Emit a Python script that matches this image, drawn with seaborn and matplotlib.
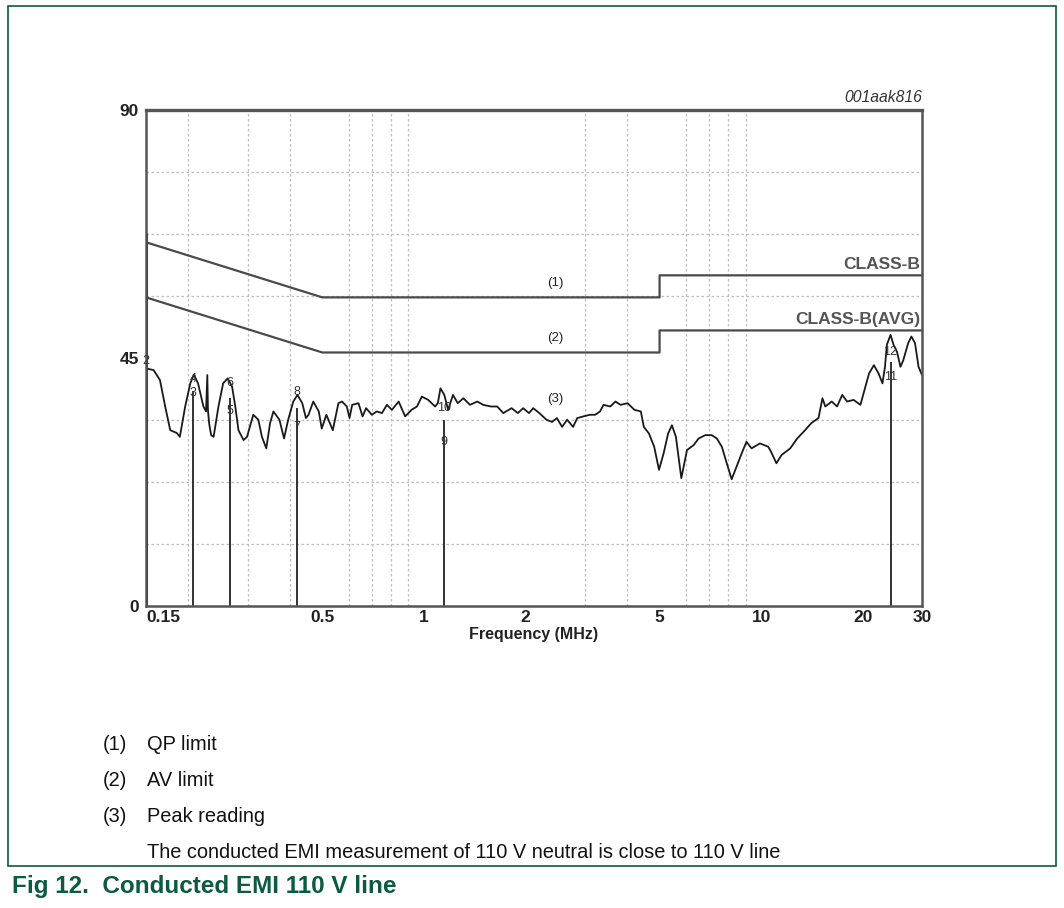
import numpy as np
import pandas as pd
import seaborn as sns
import matplotlib
matplotlib.use("Agg")
import matplotlib.pyplot as plt
from matplotlib import font_manager
from matplotlib.patches import Rectangle

sns.set_theme(style="white")

installed = {f.name for f in font_manager.fontManager.ttflist}
narrow = "Liberation Sans Narrow" if "Liberation Sans Narrow" in installed else "Liberation Sans"
plt.rcParams["font.family"] = ["Liberation Sans", "DejaVu Sans"]

# peak reading trace (3): frequency in MHz, level in dB
trace_freq = [0.150, 0.1502, 0.158, 0.165, 0.171, 0.177, 0.185, 0.189, 0.196, 0.203,
              0.208, 0.214, 0.222, 0.226, 0.228, 0.229, 0.231, 0.234, 0.238, 0.246,
              0.254, 0.262, 0.270, 0.276, 0.282, 0.292, 0.299, 0.312, 0.323, 0.331,
              0.341, 0.350, 0.358, 0.373, 0.385, 0.396, 0.410, 0.422, 0.436, 0.447,
              0.455, 0.470, 0.488, 0.498, 0.514, 0.537, 0.558, 0.572, 0.591, 0.602,
              0.613, 0.640, 0.658, 0.674, 0.701, 0.725, 0.751, 0.777, 0.804, 0.842,
              0.880, 0.920, 0.954, 0.986, 1.03, 1.08, 1.10, 1.12, 1.15, 1.18,
              1.22, 1.26, 1.31, 1.37, 1.44, 1.50, 1.58, 1.65, 1.72, 1.82,
              1.90, 1.97, 2.05, 2.11, 2.20, 2.31, 2.40, 2.48, 2.57, 2.66,
              2.77, 2.85, 2.97, 3.11, 3.22, 3.33, 3.41, 3.57, 3.70, 3.83,
              4.02, 4.21, 4.40, 4.49, 4.65, 4.82, 4.98, 5.14, 5.30, 5.44,
              5.59, 5.80, 6.03, 6.31, 6.53, 6.83, 7.14, 7.39, 7.65, 7.91,
              8.18, 8.46, 8.76, 9.05, 9.37, 9.92, 10.5, 10.7, 11.1, 11.5,
              12.2, 12.8, 13.5, 14.1, 14.8, 15.2, 15.5, 16.2, 16.8, 17.4,
              18.0, 18.8, 19.7, 20.2, 20.9, 21.6, 22.3, 22.9, 23.3, 23.6,
              24.2, 24.7, 25.3, 25.9, 26.4, 27.3, 27.9, 28.6, 29.3, 30.0]
trace_db = [67.7, 43.1, 42.8, 41.0, 36.2, 31.9, 31.4, 30.7, 36.2, 40.4,
            42.0, 40.4, 36.2, 35.3, 41.9, 35.5, 33.0, 31.0, 30.7, 36.2,
            40.4, 41.3, 39.8, 36.2, 31.9, 30.1, 30.7, 34.7, 33.8, 30.7,
            28.6, 33.2, 35.3, 33.8, 30.4, 33.8, 37.1, 38.3, 36.8, 34.1,
            34.7, 37.1, 35.3, 32.2, 34.7, 31.9, 36.8, 37.1, 36.2, 34.1,
            36.5, 36.8, 34.4, 35.9, 34.7, 35.3, 35.0, 36.5, 35.6, 37.1,
            34.4, 35.6, 36.2, 38.0, 37.4, 36.2, 36.8, 39.5, 38.3, 35.6,
            38.3, 36.8, 37.7, 36.5, 37.1, 36.5, 36.2, 36.2, 35.0, 35.9,
            35.0, 35.9, 35.0, 35.9, 35.0, 33.8, 33.4, 34.1, 32.5, 33.8,
            32.5, 34.1, 34.4, 34.7, 34.7, 35.3, 36.5, 36.2, 37.1, 36.5,
            36.8, 35.6, 35.3, 32.5, 31.3, 28.9, 24.7, 27.7, 31.3, 32.8,
            30.7, 23.2, 28.3, 29.2, 30.4, 31.0, 31.0, 30.4, 28.9, 25.9,
            23.0, 25.3, 27.7, 29.8, 28.6, 29.5, 28.9, 28.0, 25.9, 27.4,
            28.6, 30.4, 31.9, 33.2, 34.1, 37.7, 36.2, 37.1, 36.2, 38.3,
            37.1, 37.4, 36.5, 38.9, 42.2, 43.7, 42.2, 40.4, 43.4, 47.4,
            49.2, 47.4, 46.1, 43.4, 44.6, 47.7, 48.9, 47.7, 43.4, 41.9]

# limit lines (1) QP and (2) AV
limit_freq = [0.15, 0.5, 5.0, 5.0, 30.0]
qp_db = [66, 56, 56, 60, 60]
av_db = [56, 46, 46, 50, 50]

# measured marker points: frequency, top of the marker line, labels
marker_freq = [0.15, 0.207, 0.266, 0.421, 1.15, 24.2]
marker_top = [42.0, 39.0, 37.7, 36.0, 33.8, 44.3]
marker_qp_label = ["2", "4", "6", "8", "10", "12"]
marker_qp_db = [44.5, 41.2, 40.4, 38.9, 35.9, 46.1]
marker_av_label = ["", "3", "5", "7", "9", "11"]
marker_av_db = [0, 38.6, 35.3, 32.5, 29.8, 41.6]

x_ticks = [0.15, 0.5, 1, 2, 5, 10, 20, 30]
x_tick_labels = ["0.15", "0.5", "1", "2", "5", "10", "20", "30"]
y_ticks = [0, 45, 90]

notes = ["QP limit", "AV limit", "Peak reading"]
remark = "The conducted EMI measurement of 110 V neutral is close to 110 V line"
caption = "Fig 12.  Conducted EMI 110 V line"

trace = pd.DataFrame({"freq": trace_freq, "db": trace_db})
limits = pd.DataFrame({"freq": limit_freq, "qp": qp_db, "av": av_db})

W, H = 1064, 908
fig = plt.figure(figsize=(W / 100, H / 100), dpi=100)
ax = fig.add_axes([146 / W, 1 - 606 / H, (922 - 146) / W, (606 - 110) / H])

sns.lineplot(data=limits, x="freq", y="qp", ax=ax, color="#4a4a4a", lw=1.6,
             sort=False, estimator=None)
sns.lineplot(data=limits, x="freq", y="av", ax=ax, color="#4a4a4a", lw=1.6,
             sort=False, estimator=None)
sns.lineplot(data=trace, x="freq", y="db", ax=ax, color="#1a1a1a", lw=1.3,
             sort=False, estimator=None)
ax.vlines(marker_freq, 0, marker_top, color="#222222", lw=1.3)
ax.vlines(marker_freq[:1], 0, trace_db[:1], color="#111111", lw=2.2)

for f, lab, d in zip(marker_freq, marker_qp_label, marker_qp_db):
    ax.text(f, d, lab, fontsize=9, ha="center", va="center", color="#333333")
for f, lab, d in zip(marker_freq, marker_av_label, marker_av_db):
    if lab:
        ax.text(f, d, lab, fontsize=9, ha="center", va="center", color="#333333")

ax.set_xscale("log")
ax.set_xlim(0.15, 30)
ax.set_ylim(0, 90)

grid_x = [m * 10.0 ** e for e in (-1, 0, 1) for m in range(1, 10)]
grid_x = [g for g in grid_x if 0.15 < g < 30]
ax.set_xticks(x_ticks)
ax.set_xticklabels(x_tick_labels)
ax.set_xticks(grid_x, minor=True)
ax.set_yticks(y_ticks)
ax.set_yticks(np.arange(0, 90.1, 11.25), minor=True)
ax.grid(False)
ax.grid(which="minor", color="#bdbdbd", lw=0.9, ls=(0, (2, 2)))
ax.tick_params(which="both", length=0)
ax.tick_params(axis="x", pad=3)
ax.tick_params(axis="y", pad=5)
for lab in ax.get_xticklabels() + ax.get_yticklabels():
    lab.set_fontweight("bold")
    lab.set_fontsize(12.5)
    lab.set_family([narrow, "DejaVu Sans"])
    lab.set_color("#222222")
ax.get_xticklabels()[0].set_horizontalalignment("left")

ax.set_xlabel("Frequency (MHz)", fontsize=11.5, fontweight="bold",
              family=[narrow, "DejaVu Sans"], color="#222222", labelpad=1)
ax.set_ylabel("")

for name, sp in ax.spines.items():
    sp.set_visible(True)
    sp.set_color("#555555")
    sp.set_linewidth(1.8)
ax.spines["top"].set_linewidth(2.4)

ax.text(2.45, 58.6, "(1)", fontsize=9.5, ha="center", va="center", color="#222222")
ax.text(2.45, 48.6, "(2)", fontsize=9.5, ha="center", va="center", color="#222222")
ax.text(2.45, 37.6, "(3)", fontsize=9.5, ha="center", va="center", color="#222222")
ax.text(29.6, 62.0, "CLASS-B", fontsize=12.5, fontweight="bold", ha="right", va="center",
        color="#555555", family=[narrow, "DejaVu Sans"])
ax.text(29.6, 52.0, "CLASS-B(AVG)", fontsize=12.5, fontweight="bold", ha="right",
        va="center", color="#555555", family=[narrow, "DejaVu Sans"])

fig.text(922 / W, 1 - 97 / H, "001aak816", fontsize=11.3, style="italic", ha="right",
         va="center", color="#333333")

for i, note in enumerate(notes):
    y = 1 - (744 + 36 * i) / H
    fig.text(103 / W, y, "(%d)" % (i + 1), fontsize=14.4, va="center", color="#111111")
    fig.text(147 / W, y, note, fontsize=14.4, va="center", color="#111111")
fig.text(147 / W, 1 - 852 / H, remark, fontsize=14.4, va="center", color="#111111")
fig.text(12 / W, 1 - 886 / H, caption, fontsize=17.5, fontweight="bold", va="center",
         color="#0b5a41")

frame = Rectangle((8 / W, 1 - 866 / H), (1056 - 8) / W, (866 - 6) / H,
                  transform=fig.transFigure, fill=False, edgecolor="#0b5a41", lw=1.2)
fig.patches.append(frame)

fig.savefig("out.png", dpi=100, facecolor="white")
